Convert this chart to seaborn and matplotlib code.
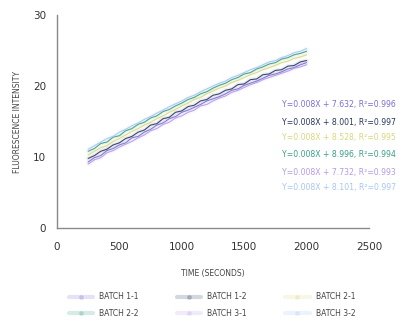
import matplotlib
matplotlib.use("Agg")
import matplotlib.pyplot as plt
import seaborn as sns
import pandas as pd
from matplotlib.lines import Line2D

time_s = [250, 300, 350, 400, 450, 500, 550, 600, 650, 700, 750, 800, 850, 900, 950,
          1000, 1050, 1100, 1150, 1200, 1250, 1300, 1350, 1400, 1450, 1500, 1550,
          1600, 1650, 1700, 1750, 1800, 1850, 1900, 1950, 2000]

batch_1_1 = [9.3, 9.9, 10.2, 10.9, 11.2, 11.7, 12.0, 12.7, 12.9, 13.5, 13.9, 14.5, 14.8, 15.4, 15.7,
             16.3, 16.6, 17.0, 17.4, 17.9, 18.2, 18.5, 18.9, 19.4, 19.6, 20.1, 20.4, 20.7, 21.1,
             21.5, 21.7, 22.0, 22.4, 22.6, 23.0, 23.3]
batch_1_2 = [9.8, 10.2, 10.8, 11.1, 11.7, 12.0, 12.6, 12.9, 13.5, 13.8, 14.5, 14.7, 15.4, 15.6, 16.3,
             16.5, 17.1, 17.3, 17.9, 18.1, 18.7, 18.9, 19.4, 19.6, 20.2, 20.3, 20.9, 21.0, 21.6,
             21.7, 22.2, 22.3, 22.8, 22.9, 23.4, 23.6]
batch_2_1 = [10.3, 10.8, 11.3, 11.6, 12.2, 12.6, 13.1, 13.6, 14.0, 14.5, 14.9, 15.4, 15.8, 16.3, 16.7,
             17.2, 17.6, 18.1, 18.4, 18.9, 19.3, 19.7, 20.0, 20.5, 20.8, 21.2, 21.6, 21.9, 22.3,
             22.6, 22.9, 23.3, 23.5, 23.9, 24.1, 24.4]
batch_2_2 = [10.8, 11.2, 11.9, 12.1, 12.8, 13.0, 13.7, 14.0, 14.6, 14.9, 15.5, 15.8, 16.4, 16.7, 17.2,
             17.6, 18.1, 18.4, 18.9, 19.2, 19.7, 20.1, 20.4, 20.9, 21.2, 21.7, 21.9, 22.4, 22.7,
             23.1, 23.3, 23.8, 24.0, 24.4, 24.6, 24.9]
batch_3_1 = [9.0, 9.6, 9.9, 10.6, 10.9, 11.4, 11.8, 12.2, 12.7, 13.1, 13.7, 14.0, 14.6, 14.9, 15.5,
             15.8, 16.3, 16.6, 17.2, 17.4, 17.9, 18.3, 18.6, 19.1, 19.4, 19.8, 20.2, 20.5, 20.9,
             21.2, 21.5, 21.8, 22.1, 22.5, 22.7, 23.0]
batch_3_2 = [11.1, 11.6, 12.1, 12.6, 12.9, 13.5, 13.9, 14.4, 14.8, 15.3, 15.7, 16.2, 16.6, 17.1, 17.5,
             17.9, 18.4, 18.7, 19.2, 19.6, 20.0, 20.4, 20.7, 21.2, 21.5, 21.9, 22.3, 22.6, 23.0,
             23.4, 23.6, 24.0, 24.3, 24.7, 24.9, 25.3]

batch_names = ["BATCH 1-1", "BATCH 1-2", "BATCH 2-1", "BATCH 2-2", "BATCH 3-1", "BATCH 3-2"]
equations = ["Y=0.008X + 7.632, R\u00b2=0.996",
             "Y=0.008X + 8.001, R\u00b2=0.997",
             "Y=0.008X + 8.528, R\u00b2=0.995",
             "Y=0.008X + 8.996, R\u00b2=0.994",
             "Y=0.008X + 7.732, R\u00b2=0.993",
             "Y=0.008X + 8.101, R\u00b2=0.997"]
colors = ["#7a6fd6", "#27375e", "#d8d77e", "#3a9f86", "#b79be6", "#a8c6f2"]

series = [batch_1_1, batch_1_2, batch_2_1, batch_2_2, batch_3_1, batch_3_2]
rows = []
for name, vals in zip(batch_names, series):
    for t, v in zip(time_s, vals):
        rows.append({"time": t, "value": v, "batch": name})
df = pd.DataFrame(rows)

sns.set_style("white")
plt.rcParams["font.family"] = ["DejaVu Sans"]

fig = plt.figure(figsize=(4.0, 3.28), dpi=100)
ax = fig.add_axes([0.1425, 0.305, 0.78, 0.649])
palette = dict(zip(batch_names, colors))

sns.lineplot(data=df, x="time", y="value", hue="batch", palette=palette,
             linewidth=3, alpha=0.08, legend=False, ax=ax)
sns.lineplot(data=df, x="time", y="value", hue="batch", palette=palette,
             linewidth=0.8, alpha=0.9, legend=False, ax=ax)

ax.set_xlim(0, 2500)
ax.set_ylim(0, 30)
ax.set_xticks([0, 500, 1000, 1500, 2000, 2500])
ax.set_yticks([0, 10, 20, 30])
for s in ["top", "right"]:
    ax.spines[s].set_visible(False)
for s in ["left", "bottom"]:
    ax.spines[s].set_color("#8a8a8a")
    ax.spines[s].set_linewidth(1.0)
ax.tick_params(axis="both", direction="out", length=4, width=0.8, color="#8a8a8a",
               labelsize=7.5, labelcolor="#333333", pad=4)
ax.tick_params(axis="x", pad=6)
ax.set_xlabel("TIME (SECONDS)", fontsize=5.5, color="#444444", labelpad=12)
ax.set_ylabel("FLUORESCENCE INTENSITY", fontsize=5.5, color="#444444", labelpad=8)

ypos = [104, 122, 138, 155, 172, 188]
for eq, c, yp in zip(equations, colors, ypos):
    fig.text(282 / 400, 1 - yp / 328, eq, color=c, fontsize=5.6, ha="left", va="center")

handles = [Line2D([0], [0], color=c, lw=3, alpha=0.2, marker="o", markersize=2.5,
                  markerfacecolor=c, markeredgecolor=c) for c in colors]
order = [0, 3, 1, 4, 2, 5]
fig.legend([handles[i] for i in order], [batch_names[i] for i in order],
           loc="center", bbox_to_anchor=(0.53, 0.07), ncol=3,
           frameon=False, fontsize=5.5, handlelength=3.2, columnspacing=5.0,
           labelspacing=1.0, labelcolor="#444444")

fig.savefig("out.png", dpi=100)
